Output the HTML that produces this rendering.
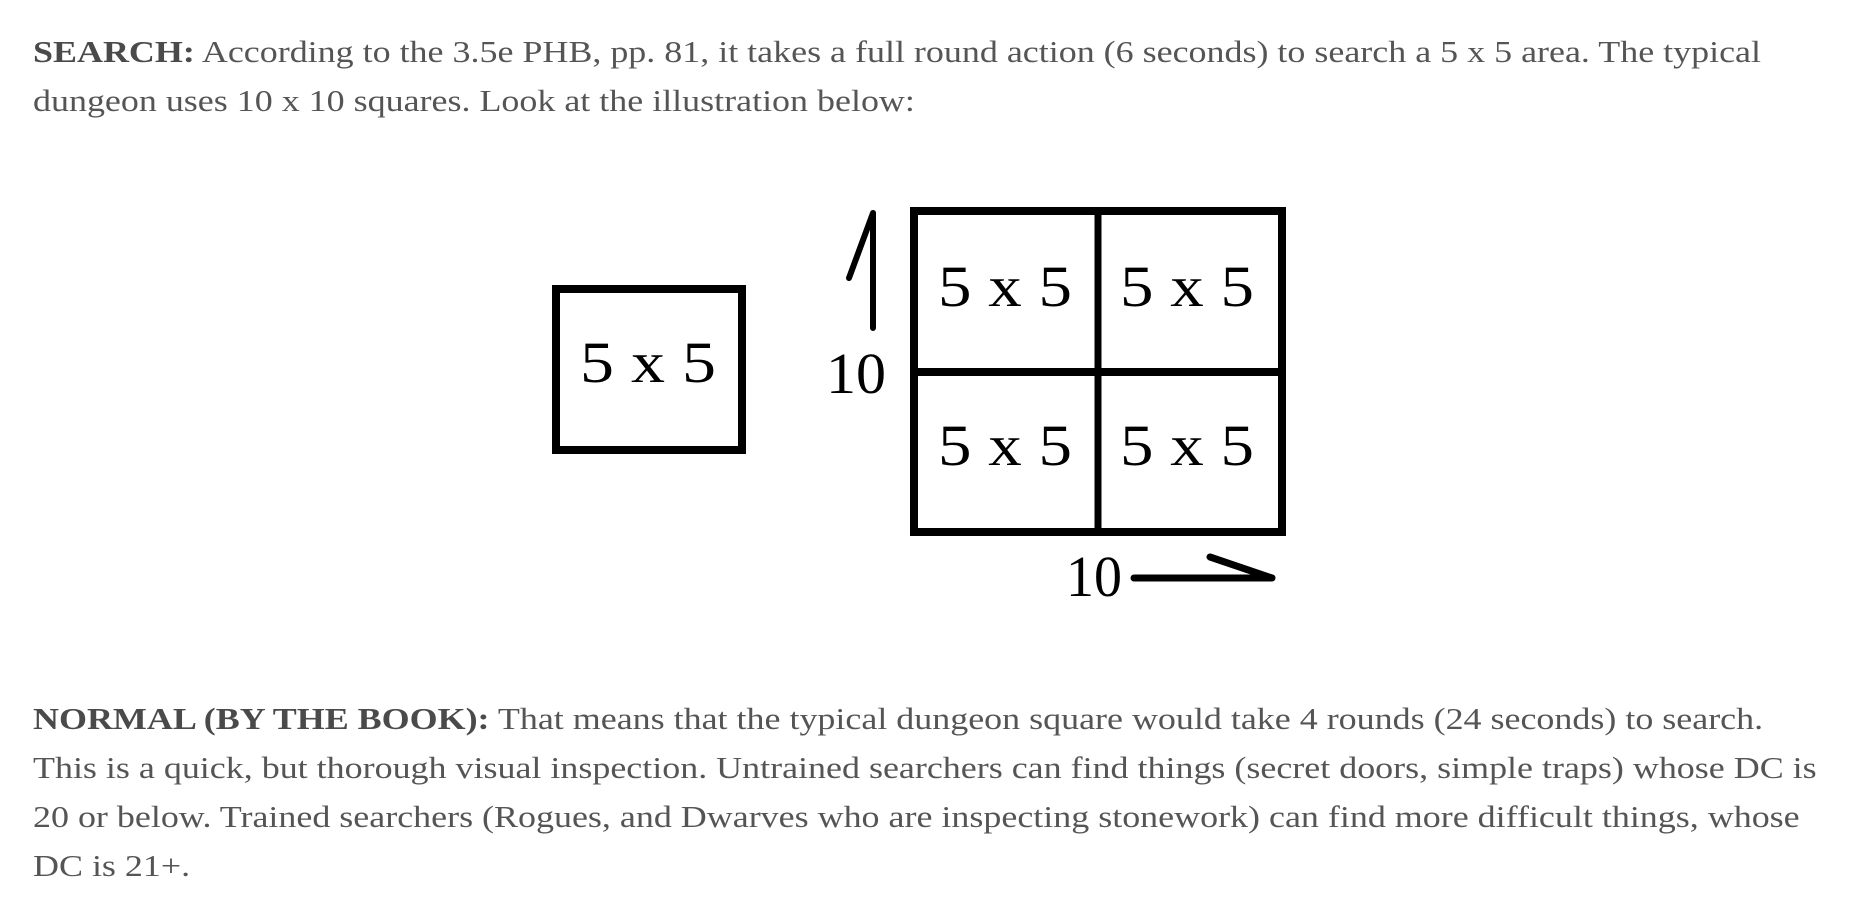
<!DOCTYPE html>
<html><head><meta charset="utf-8"><style>
html,body{margin:0;padding:0;background:#fff;width:1853px;height:909px;overflow:hidden;position:relative}
.t{position:absolute;left:33px;font-family:"Liberation Serif",serif;font-size:31px;color:#555;white-space:nowrap;line-height:49px;transform:scaleX(1.16);transform-origin:0 0}
b{color:#4a4a4a}
</style></head><body>
<div class="t" style="top:27px"><b>SEARCH:</b> According to the 3.5e PHB, pp. 81, it takes a full round action (6 seconds) to search a 5 x 5 area. The typical<br>dungeon uses 10 x 10 squares. Look at the illustration below:</div>
<div class="t" style="top:694px"><b>NORMAL (BY THE BOOK):</b> That means that the typical dungeon square would take 4 rounds (24 seconds) to search.<br>This is a quick, but thorough visual inspection. Untrained searchers can find things (secret doors, simple traps) whose DC is<br>20 or below. Trained searchers (Rogues, and Dwarves who are inspecting stonework) can find more difficult things, whose<br>DC is 21+.</div>
<svg width="1853" height="909" style="position:absolute;left:0;top:0" xmlns="http://www.w3.org/2000/svg">
<g fill="none" stroke="#000">
<rect x="556" y="289" width="186" height="161" stroke-width="8"/>
<rect x="914" y="211" width="368" height="321" stroke-width="8"/>
<line x1="914" y1="372" x2="1282" y2="372" stroke-width="8"/>
<line x1="1098" y1="211" x2="1098" y2="532" stroke-width="7"/>
<polyline points="849,278 873,213 873,328" stroke-width="6" stroke-linecap="round" stroke-linejoin="round"/>
<polyline points="1134,578 1272,578 1210,557" stroke-width="7" stroke-linecap="round" stroke-linejoin="round"/>
</g>
<g font-family="Liberation Serif, serif" font-size="58" fill="#000">
<text x="580" y="382" textLength="136" lengthAdjust="spacingAndGlyphs">5 x 5</text>
<text x="938" y="306" textLength="134" lengthAdjust="spacingAndGlyphs">5 x 5</text>
<text x="1120" y="306" textLength="134" lengthAdjust="spacingAndGlyphs">5 x 5</text>
<text x="938" y="465" textLength="134" lengthAdjust="spacingAndGlyphs">5 x 5</text>
<text x="1120" y="465" textLength="134" lengthAdjust="spacingAndGlyphs">5 x 5</text>
<text x="826" y="393" textLength="60" lengthAdjust="spacingAndGlyphs">10</text>
<text x="1066" y="596" textLength="56" lengthAdjust="spacingAndGlyphs">10</text>
</g>
</svg>
</body></html>
